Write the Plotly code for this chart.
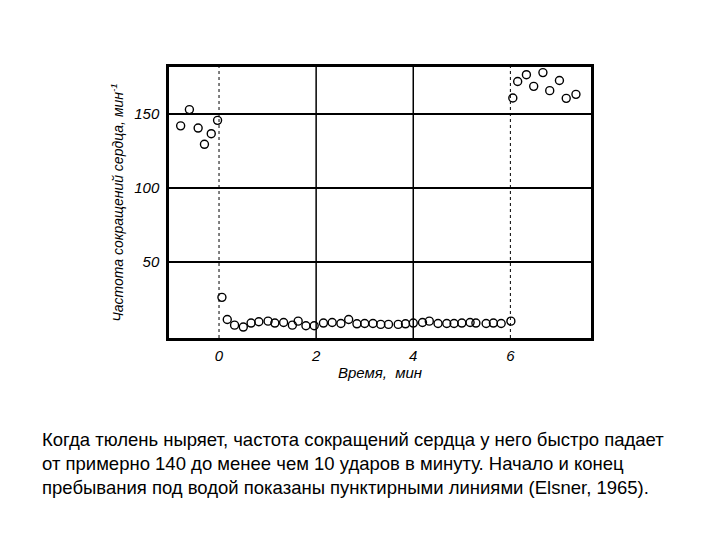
import plotly.graph_objects as go

time_min = [-0.79, -0.61, -0.43, -0.30, -0.16, -0.03, 0.06,
            0.17, 0.32, 0.50, 0.66, 0.82, 1.01, 1.15, 1.33, 1.51, 1.63, 1.79, 1.96,
            2.15, 2.33, 2.51, 2.67, 2.84, 3.00, 3.17, 3.33, 3.49, 3.69, 3.84, 4.00,
            4.19, 4.33, 4.51, 4.69, 4.84, 5.00, 5.17, 5.29, 5.50, 5.65, 5.81, 6.01,
            6.05, 6.15, 6.33, 6.48, 6.67, 6.81, 7.01, 7.15, 7.35]
heart_rate = [142, 153, 140.5, 129.5, 136.7, 145.7, 26,
              11, 7.2, 5.9, 8.6, 9.5, 9.9, 8.6, 9.0, 7.2, 9.9, 6.8, 6.8,
              8.6, 9.0, 8.3, 11, 8.1, 8.3, 8.3, 7.7, 7.7, 7.7, 8.1, 8.6,
              9.0, 9.9, 8.3, 8.3, 8.3, 8.6, 9.0, 8.6, 8.3, 8.6, 8.3, 9.9,
              160.8, 172, 176.6, 168.7, 178, 165.8, 172.7, 160.6, 163.3]
x_ticks = [0, 2, 4, 6]
x_grid = [2, 4]
y_ticks = [50, 100, 150]
dive_bounds = [0, 6]
caption = ("Когда тюлень ныряет, частота сокращений сердца у него быстро падает<br>"
           "от примерно 140 до менее чем 10 ударов в минуту. Начало и конец<br>"
           "пребывания под водой показаны пунктирными линиями (Elsner, 1965).")

fig = go.Figure()
for xg in x_grid:
    fig.add_vline(x=xg, line=dict(color="black", width=1.5), layer="below")
for xb in dive_bounds:
    fig.add_vline(x=xb, line=dict(color="black", width=1, dash="dot"), layer="below")
fig.add_trace(go.Scatter(x=time_min, y=heart_rate, mode="markers",
                         marker=dict(symbol="circle-open", size=8, color="black",
                                     line=dict(width=1.4, color="black")),
                         showlegend=False))

fnt = dict(family="Liberation Sans, Arial", size=15, color="black", style="italic")
fig.update_layout(
    width=720, height=540, paper_bgcolor="white", plot_bgcolor="white",
    margin=dict(l=161, r=137, t=59, b=210),
    xaxis=dict(range=[-1.03, 7.66], tickvals=x_ticks, showgrid=False,
               zeroline=False,
               showline=True, mirror=True, linecolor="black", linewidth=2.5,
               tickfont=fnt, ticks="", ticklabelstandoff=2,
               title=dict(text="Время,  мин", font=fnt, standoff=4)),
    yaxis=dict(range=[-1.5, 181.8], tickvals=y_ticks, showgrid=True,
               gridcolor="black", gridwidth=1.5, zeroline=False,
               showline=True, mirror=True, linecolor="black", linewidth=2.5,
               tickfont=fnt, ticks="", ticklabelstandoff=4,
               title=dict(text="Частота сокращений сердца, мин<sup>-1</sup>",
                          font=dict(family="Liberation Sans, Arial", size=14,
                                    color="black", style="italic"), standoff=8)),
)
fig.add_annotation(text=caption, xref="paper", yref="paper", x=-0.305, y=-0.33,
                   xanchor="left", yanchor="top", showarrow=False, align="left",
                   font=dict(family="Liberation Sans, Arial", size=18.5, color="black"))
fig.write_html("out.html")
